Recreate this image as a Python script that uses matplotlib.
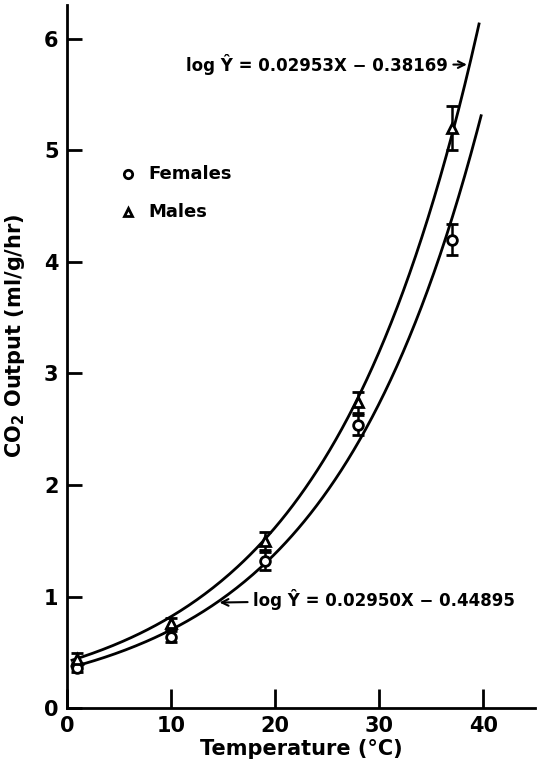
import numpy as np
import matplotlib
matplotlib.use('Agg')
import matplotlib.pyplot as plt

# temperatures where CO2 output was measured
temps = [1, 10, 19, 28, 37]

# mean CO2 output and error bar half-widths
females = [0.36, 0.64, 1.32, 2.54, 4.20]
females_err = [0.04, 0.05, 0.08, 0.09, 0.14]
males = [0.44, 0.76, 1.50, 2.74, 5.20]
males_err = [0.05, 0.05, 0.08, 0.09, 0.20]

# regression lines: log Y = a*X + b
fem_a, fem_b = 0.02950, -0.44895
male_a, male_b = 0.02953, -0.38169

plt.rcParams['font.family'] = ['DejaVu Sans']
plt.rcParams['font.weight'] = 'bold'

fig = plt.figure(figsize=(5.39, 7.68), dpi=100)
ax = fig.add_axes([0.124, 0.078, 0.869, 0.915])

# fitted curves
xf = np.linspace(0.5, 39.8, 200)
ax.plot(xf, 10 ** (fem_a * xf + fem_b), color='black', lw=2)
xm = np.linspace(0.5, 39.6, 200)
ax.plot(xm, 10 ** (male_a * xm + male_b), color='black', lw=2)

# data points with error bars
ax.errorbar(temps, females, yerr=females_err, fmt='o', ms=7, mfc='white',
            mec='black', mew=2, ecolor='black', elinewidth=1.8, capsize=4,
            capthick=1.8, zorder=3)
ax.errorbar(temps, males, yerr=males_err, fmt='^', ms=7, mfc='white',
            mec='black', mew=2, ecolor='black', elinewidth=1.8, capsize=4,
            capthick=1.8, zorder=3)

# legend drawn by hand
ax.plot([5.9], [4.79], 'o', ms=6, mfc='white', mec='black', mew=2)
ax.text(7.8, 4.79, 'Females', fontsize=13, fontweight='bold', va='center')
ax.plot([5.9], [4.45], '^', ms=6, mfc='white', mec='black', mew=2)
ax.text(7.8, 4.45, 'Males', fontsize=13, fontweight='bold', va='center')

# equation labels with arrows
x_up = 38.7
ax.annotate('log Ŷ = 0.02953X \u2212 0.38169', xy=(x_up, 10 ** (male_a * x_up + male_b)),
            xytext=(36.6, 5.77), ha='right', va='center', fontsize=12,
            fontweight='bold',
            arrowprops=dict(arrowstyle='->', color='black', lw=1.5))
x_lo = 14.4
ax.annotate('log Ŷ = 0.02950X \u2212 0.44895', xy=(x_lo, 10 ** (fem_a * x_lo + fem_b)),
            xytext=(17.9, 0.97), ha='left', va='center', fontsize=12,
            fontweight='bold',
            arrowprops=dict(arrowstyle='->', color='black', lw=1.5))

ax.set_xlim(0, 45)
ax.set_ylim(0, 6.3)
ax.set_xticks([0, 10, 20, 30, 40])
ax.set_yticks([0, 1, 2, 3, 4, 5, 6])
ax.tick_params(axis='both', direction='in', width=2, labelsize=15)
ax.tick_params(axis='x', length=14, pad=6)
ax.tick_params(axis='y', length=11, pad=6)
for lbl in ax.get_xticklabels() + ax.get_yticklabels():
    lbl.set_fontweight('bold')

ax.spines['top'].set_visible(False)
ax.spines['right'].set_visible(False)
ax.spines['left'].set_linewidth(2)
ax.spines['bottom'].set_linewidth(2)

ax.set_xlabel('Temperature (°C)', fontsize=15, fontweight='bold', labelpad=2)
ax.set_ylabel('CO$_2$ Output (ml/g/hr)', fontsize=15, fontweight='bold')
ax.yaxis.set_label_coords(-0.085, 0.53)

fig.savefig('out.png', dpi=100)
